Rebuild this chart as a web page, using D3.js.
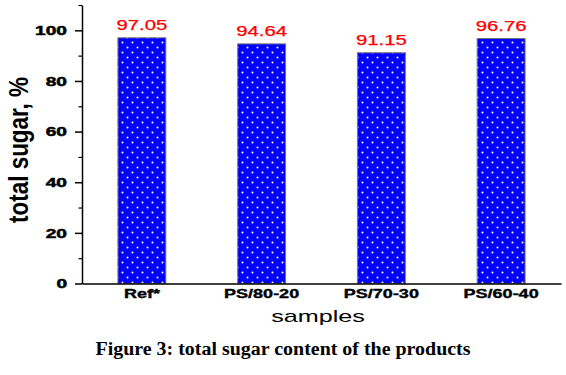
<!DOCTYPE html>
<html><head><meta charset="utf-8">
<script src="https://cdn.jsdelivr.net/npm/d3@7"></script>
<style>body{margin:0;background:#fff}svg{display:block}</style>
</head><body>
<script>
const categories = ["Ref*", "PS/80-20", "PS/70-30", "PS/60-40"];
const values = [97.05, 94.64, 91.15, 96.76];
const labels = ["97.05", "94.64", "91.15", "96.76"];
const yTicks = [0, 20, 40, 60, 80, 100];
const yMinorTicks = [10, 30, 50, 70, 90, 110];

const W = 566, H = 375;
const SANS = "Liberation Sans, Arial, sans-serif";
const svg = d3.select("body").append("svg").attr("width", W).attr("height", H);

// horizontal stretch of text glyphs, as in the reference
function stretch(sel, f) {
  sel.each(function () {
    const len = this.getComputedTextLength();
    d3.select(this).attr("textLength", len * f).attr("lengthAdjust", "spacingAndGlyphs");
  });
}

const x = d3.scaleBand().domain(categories).range([82, 561]).paddingInner(0.6).paddingOuter(0.3);
const y = d3.scaleLinear().domain([0, 110]).range([283.5, 5]);

const defs = svg.append("defs");
const pat = defs.append("pattern").attr("id", "dots").attr("patternUnits", "userSpaceOnUse")
  .attr("width", 10).attr("height", 10).attr("x", 0).attr("y", 0);
pat.append("rect").attr("width", 10).attr("height", 10).attr("fill", "#0000ff");
pat.append("circle").attr("cx", 2.5).attr("cy", 2.5).attr("r", 1).attr("fill", "#fff");
pat.append("circle").attr("cx", 7.5).attr("cy", 7.5).attr("r", 1).attr("fill", "#fff");

svg.selectAll("rect.bar").data(values).join("rect").attr("class", "bar")
  .attr("x", (d, i) => x(categories[i]))
  .attr("width", x.bandwidth())
  .attr("y", d => y(d))
  .attr("height", d => y(0) - y(d))
  .attr("fill", "url(#dots)")
  .attr("stroke", "#777").attr("stroke-width", 1);

const vals = svg.selectAll("text.val").data(values).join("text").attr("class", "val")
  .attr("x", (d, i) => x(categories[i]) + x.bandwidth() / 2)
  .attr("y", d => y(d) - 8)
  .attr("text-anchor", "middle")
  .attr("font-family", SANS)
  .attr("font-size", 14).attr("fill", "#ff0000")
  .attr("stroke", "#ff0000").attr("stroke-width", 0.25)
  .text((d, i) => labels[i]);
stretch(vals, 1.45);

// y axis
const yAxis = svg.append("g").attr("transform", "translate(82,0)")
  .call(d3.axisLeft(y).tickValues(yTicks).tickSize(7).tickSizeOuter(0).tickFormat(d3.format("d")));
yAxis.select(".domain").attr("stroke", "#000").attr("stroke-width", 1.5);
yAxis.selectAll(".tick line").attr("stroke-width", 1.5);
const yt = yAxis.selectAll(".tick text").attr("font-family", SANS)
  .attr("font-weight", "bold").attr("font-size", 13).attr("fill", "#000")
  .attr("stroke", "#000").attr("stroke-width", 0.5).attr("x", -15);
stretch(yt, 1.47);
const yMinor = svg.append("g").attr("transform", "translate(82,0)")
  .call(d3.axisLeft(y).tickValues(yMinorTicks).tickSize(3.5).tickSizeOuter(0).tickFormat(""));
yMinor.select(".domain").remove();
yMinor.selectAll(".tick line").attr("stroke-width", 1.2);

// x axis
const xAxis = svg.append("g").attr("transform", `translate(0,${y(0)})`)
  .call(d3.axisBottom(x).tickSize(0).tickSizeOuter(0).tickPadding(6));
xAxis.select(".domain").attr("stroke", "#000").attr("stroke-width", 1.5);
const xt = xAxis.selectAll(".tick text").attr("font-family", SANS)
  .attr("font-weight", "bold").attr("font-size", 12).attr("fill", "#000")
  .attr("stroke", "#000").attr("stroke-width", 0.35);
stretch(xt, 1.5);

const yTitle = svg.append("text").attr("transform", "translate(28,150) scale(1.3,1) rotate(-90)")
  .attr("text-anchor", "middle")
  .attr("font-family", SANS)
  .attr("font-weight", "bold").attr("font-size", 21).text("total sugar, %");
yTitle.attr("textLength", 146).attr("lengthAdjust", "spacingAndGlyphs");

const xTitle = svg.append("text").attr("x", 318).attr("y", 322).attr("text-anchor", "middle")
  .attr("font-family", SANS)
  .attr("font-size", 17).text("samples");
stretch(xTitle, 1.48);

const cap = svg.append("text").attr("x", 283).attr("y", 355).attr("text-anchor", "middle")
  .attr("font-family", "Liberation Serif, Times New Roman, serif")
  .attr("font-weight", "bold").attr("font-size", 18).text("Figure 3: total sugar content of the products");
cap.attr("textLength", 375).attr("lengthAdjust", "spacingAndGlyphs");
</script>
</body></html>
